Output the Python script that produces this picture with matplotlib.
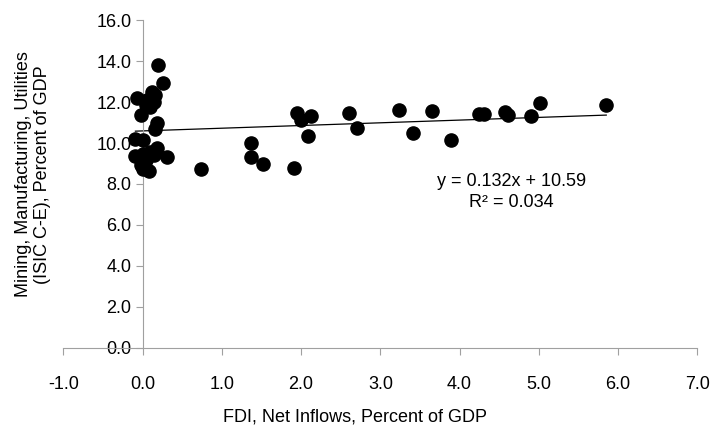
import matplotlib
matplotlib.use("Agg")
import numpy as np
import matplotlib.pyplot as plt

plt.rcParams["font.family"] = ["Liberation Sans Narrow", "Liberation Sans", "DejaVu Sans"]

# FDI net inflows (% of GDP) vs mining/manufacturing/utilities (% of GDP)
fdi = [0.20, 0.26, -0.07, 0.06, 0.12, 0.16, 0.14, 0.04, 0.10, -0.02, 0.18, 0.16,
       -0.09, 0.00, 0.18, 0.10, 0.31, -0.09, 0.00, 0.04, 0.14, -0.02, 0.01, 0.08,
       0.74, 1.37, 1.37, 1.52, 1.91, 1.95, 2.00, 2.12, 2.09, 2.60, 2.71, 3.23,
       3.41, 3.65, 3.89, 4.24, 4.31, 4.57, 4.61, 4.90, 5.02, 5.85]
mmu = [13.8, 12.95, 12.2, 12.1, 12.5, 12.35, 12.0, 11.85, 11.75, 11.35, 11.0, 10.7,
       10.2, 10.15, 9.75, 9.55, 9.3, 9.35, 9.45, 9.15, 9.4, 8.95, 8.75, 8.62,
       8.72, 10.0, 9.3, 9.0, 8.77, 11.45, 11.12, 11.3, 10.36, 11.45, 10.72, 11.6,
       10.47, 11.56, 10.13, 11.41, 11.41, 11.53, 11.37, 11.32, 11.93, 11.84]
slope, intercept = 0.132, 10.59

fig = plt.figure(figsize=(7.19, 4.36), dpi=100)
ax = fig.add_axes([0.088, 0.202, 0.882, 0.752])

ax.scatter(fdi, mmu, s=90, color="black", zorder=3)
xs = np.array([min(fdi), max(fdi)])
ax.plot(xs, slope * xs + intercept, color="black", lw=0.9, zorder=2)

ax.set_xlim(-1, 7)
ax.set_ylim(0, 16)
ax.set_xticks(np.arange(-1, 8, 1))
ax.set_yticks(np.arange(0, 17, 2))
ax.xaxis.set_major_formatter(matplotlib.ticker.FormatStrFormatter("%.1f"))
ax.yaxis.set_major_formatter(matplotlib.ticker.FormatStrFormatter("%.1f"))

ax.spines["left"].set_position(("data", 0))
ax.spines["bottom"].set_position(("data", 0))
ax.spines["top"].set_visible(False)
ax.spines["right"].set_visible(False)
for sp in ("left", "bottom"):
    ax.spines[sp].set_color("#a0a0a0")
ax.tick_params(axis="both", colors="#a0a0a0", labelcolor="black", labelsize=13, length=5)
ax.tick_params(axis="x", pad=15)
ax.tick_params(axis="y", pad=3)

ax.set_xlabel("FDI, Net Inflows, Percent of GDP", fontsize=13)
ax.xaxis.set_label_coords(0.46, -0.185)
fig.text(0.046, 0.6, "Mining, Manufacturing, Utilities\n(ISIC C-E), Percent of GDP",
         rotation=90, ha="center", va="center", fontsize=13, multialignment="center")

ax.text(4.65, 8.1, "y = 0.132x + 10.59", ha="center", va="center", fontsize=13)
ax.text(4.65, 7.1, "R² = 0.034", ha="center", va="center", fontsize=13)

fig.savefig("out.png", dpi=100)
